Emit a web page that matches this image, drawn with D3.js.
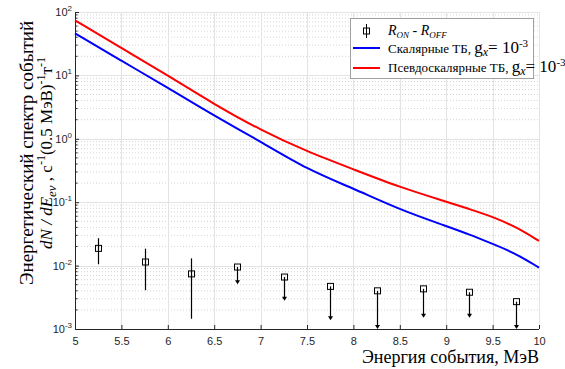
<!DOCTYPE html>
<html>
<head>
<meta charset="utf-8">
<script src="https://cdn.jsdelivr.net/npm/d3@7"></script>
<style>
  body { margin: 0; background: #fff; }
  svg { display: block; }
</style>
</head>
<body>
<div id="chart"></div>
<script>
// spectrum curves
const energy = [5, 5.5, 6, 6.5, 7, 7.5, 8, 8.5, 9, 9.25, 9.5, 9.75, 10];
const scalar = [46, 17, 6.4, 2.3, 0.91, 0.33, 0.165, 0.076, 0.042, 0.031, 0.022, 0.0155, 0.0093];
const pseudo = [74, 27, 10, 3.5, 1.37, 0.63, 0.33, 0.172, 0.102, 0.078, 0.059, 0.041, 0.0245];

// R_ON - R_OFF points
const binCenters = [5.25, 5.75, 6.25, 6.75, 7.25, 7.75, 8.25, 8.75, 9.25, 9.75];
const diffVals = [0.0187, 0.0114, 0.0074, 0.0095, 0.0066, 0.0047, 0.0040, 0.0043, 0.0038, 0.0027];
const errHigh = [0.027, 0.0185, 0.013, null, null, null, null, null, null, null];
const errLow = [0.0105, 0.0041, 0.00145, 0.0051, 0.0028, 0.00138, 0.001, 0.0015, 0.0015, 0.001];
const isLimit = [false, false, false, true, true, true, true, true, true, true];

const xTicks = [5, 5.5, 6, 6.5, 7, 7.5, 8, 8.5, 9, 9.5, 10];
const yExps = [-3, -2, -1, 0, 1, 2];

const W = 565, H = 369;
const margin = { top: 12, right: 26, bottom: 40, left: 75 };
const width = W - margin.left - margin.right,
    height = H - margin.top - margin.bottom;

const svg = d3.select("#chart").append("svg")
    .attr("width", W).attr("height", H);
const g = svg.append("g")
    .attr("transform", `translate(${margin.left},${margin.top})`);

const x = d3.scaleLinear().domain([5, 10]).range([0, width]);
const y = d3.scaleLog().domain([1e-3, 1e2]).range([height, 0]);

const axisColor = "#262626";
const sans = "'Liberation Sans', Arial, sans-serif";
const serif = "'Liberation Serif', 'DejaVu Serif', serif";

// minor grid (dotted)
const minors = [];
yExps.slice(0, -1).forEach(e => {
    for (let k = 2; k <= 9; k++) minors.push(k * Math.pow(10, e));
});
g.append("g").selectAll("line").data(minors).join("line")
    .attr("x1", 0).attr("x2", width)
    .attr("y1", d => y(d)).attr("y2", d => y(d))
    .attr("stroke", "#d4d4d4").attr("stroke-width", 1)
    .attr("stroke-dasharray", "1,2");

// major grid
g.append("g").selectAll("line").data(yExps).join("line")
    .attr("x1", 0).attr("x2", width)
    .attr("y1", d => Math.round(y(Math.pow(10, d))) + 0.5)
    .attr("y2", d => Math.round(y(Math.pow(10, d))) + 0.5)
    .attr("stroke", "#e3e3e3");
g.append("g").selectAll("line").data(xTicks).join("line")
    .attr("x1", d => Math.round(x(d)) + 0.5).attr("x2", d => Math.round(x(d)) + 0.5)
    .attr("y1", 0).attr("y2", height)
    .attr("stroke", "#e3e3e3");

// bottom axis
const xAxis = g.append("g")
    .attr("transform", `translate(0,${height})`)
    .call(d3.axisBottom(x).tickValues(xTicks).tickSize(-4).tickPadding(8)
        .tickFormat(d3.format("")));
xAxis.select(".domain").attr("stroke", axisColor).attr("d", `M0.5,0.5H${width}`);
xAxis.selectAll(".tick line").attr("stroke", axisColor);
xAxis.selectAll(".tick text").attr("fill", axisColor)
    .style("font-family", sans).style("font-size", "11px");

// left axis
const yAxis = g.append("g")
    .call(d3.axisLeft(y).tickValues(yExps.map(e => Math.pow(10, e))).tickSize(-4)
        .tickPadding(5).tickFormat(""));
yAxis.select(".domain").attr("stroke", axisColor).attr("d", `M0.5,0V${height}`);
yAxis.selectAll(".tick line").attr("stroke", axisColor);
g.append("g").selectAll("line").data(minors).join("line")
    .attr("x1", 0.5).attr("x2", 2.5)
    .attr("y1", d => y(d)).attr("y2", d => y(d))
    .attr("stroke", axisColor);

const yLab = g.append("g").selectAll("text").data(yExps).join("text")
    .attr("x", -3).attr("y", d => y(Math.pow(10, d)) + 4)
    .attr("text-anchor", "end").attr("fill", axisColor)
    .style("font-family", sans).style("font-size", "11px");
yLab.append("tspan").text("10");
yLab.append("tspan").attr("dy", -5).style("font-size", "8px").text(d => d);

// curves
const line = d3.line()
    .x(d => x(d[0])).y(d => y(d[1]))
    .curve(d3.curveBasis);
g.append("path").datum(energy.map((e, i) => [e, scalar[i]]))
    .attr("fill", "none").attr("stroke", "#0000ff").attr("stroke-width", 2)
    .attr("d", line);
g.append("path").datum(energy.map((e, i) => [e, pseudo[i]]))
    .attr("fill", "none").attr("stroke", "#ff0000").attr("stroke-width", 2)
    .attr("d", line);

// error bars and upper limits
const pts = binCenters.map((c, i) => ({
    x: c, v: diffVals[i], hi: errHigh[i], lo: errLow[i], lim: isLimit[i]
}));
const eb = g.append("g").selectAll("g").data(pts).join("g");
eb.append("line")
    .attr("x1", d => Math.round(x(d.x)) + 0.5).attr("x2", d => Math.round(x(d.x)) + 0.5)
    .attr("y1", d => d.lim ? y(d.v) : y(d.hi))
    .attr("y2", d => d.lim ? y(d.lo) - 3 : y(d.lo))
    .attr("stroke", "#000").attr("stroke-width", 1.2);
eb.filter(d => d.lim).append("path")
    .attr("d", d => {
        const cx = Math.round(x(d.x)) + 0.5, cy = y(d.lo);
        return `M${cx - 2.5},${cy - 4}L${cx + 2.5},${cy - 4}L${cx},${cy}Z`;
    })
    .attr("fill", "#000");
eb.append("rect")
    .attr("x", d => Math.round(x(d.x)) - 2.5).attr("y", d => y(d.v) - 3)
    .attr("width", 6).attr("height", 6)
    .attr("fill", "none").attr("stroke", "#000").attr("stroke-width", 1);

// legend
const leg = svg.append("g");
leg.append("rect").attr("x", 350.5).attr("y", 18.5).attr("width", 183).attr("height", 60)
    .attr("fill", "#fff").attr("stroke", "#a0a0a0");
leg.append("line").attr("x1", 366.5).attr("x2", 366.5).attr("y1", 24).attr("y2", 38)
    .attr("stroke", "#000");
leg.append("rect").attr("x", 363.5).attr("y", 28).attr("width", 6).attr("height", 6)
    .attr("fill", "none").attr("stroke", "#000");
leg.append("line").attr("x1", 353).attr("x2", 380).attr("y1", 48).attr("y2", 48)
    .attr("stroke", "#0000ff").attr("stroke-width", 2);
leg.append("line").attr("x1", 353).attr("x2", 380).attr("y1", 68).attr("y2", 68)
    .attr("stroke", "#ff0000").attr("stroke-width", 2);

const t1 = leg.append("text").attr("x", 388).attr("y", 35)
    .style("font-family", serif).style("font-style", "italic").style("font-size", "14px");
t1.append("tspan").text("R");
t1.append("tspan").attr("dy", 3).style("font-size", "9px").text("ON");
t1.append("tspan").attr("dy", -3).style("font-style", "normal").text(" - ");
t1.append("tspan").text("R");
t1.append("tspan").attr("dy", 3).style("font-size", "9px").text("OFF");

function gLabel(txt, yy) {
    const t = leg.append("text").attr("x", 388).attr("y", yy)
        .style("font-family", serif).style("font-size", "13px");
    t.append("tspan").text(txt + " ");
    t.append("tspan").style("font-size", "17px").text("g");
    t.append("tspan").attr("dy", 3).style("font-size", "12px").style("font-style", "italic").text("x");
    t.append("tspan").attr("dy", -3).style("font-size", "17px").text("= 10");
    t.append("tspan").attr("dy", -6).style("font-size", "11px").text("-3");
}
gLabel("Скалярные ТБ,", 53);
gLabel("Псевдоскалярные ТБ,", 72);

// axis titles
svg.append("text")
    .attr("x", 539).attr("y", 363).attr("text-anchor", "end")
    .style("font-family", serif).style("font-size", "18px")
    .text("Энергия  события, МэВ");

const yt = svg.append("g").attr("transform", "translate(0,153) rotate(-90)");
yt.append("text").attr("x", 0).attr("y", 33).attr("text-anchor", "middle")
    .style("font-family", serif).style("font-size", "19px")
    .text("Энергетический спектр событий");
const yt2 = yt.append("text").attr("x", 0).attr("y", 52).attr("text-anchor", "middle")
    .style("font-family", serif).style("font-size", "17px");
yt2.append("tspan").style("font-style", "italic").text("dN / dE");
yt2.append("tspan").attr("dy", 4).style("font-style", "italic").style("font-size", "13px").text("ev");
yt2.append("tspan").attr("dy", -4).text(" , с");
yt2.append("tspan").attr("dy", -7).style("font-size", "12px").text("-1");
yt2.append("tspan").attr("dy", 7).text("(0.5 МэВ)");
yt2.append("tspan").attr("dy", -7).style("font-size", "12px").text("-1");
yt2.append("tspan").attr("dy", 7).text("т");
yt2.append("tspan").attr("dy", -7).style("font-size", "12px").text("-1");
</script>
</body>
</html>
